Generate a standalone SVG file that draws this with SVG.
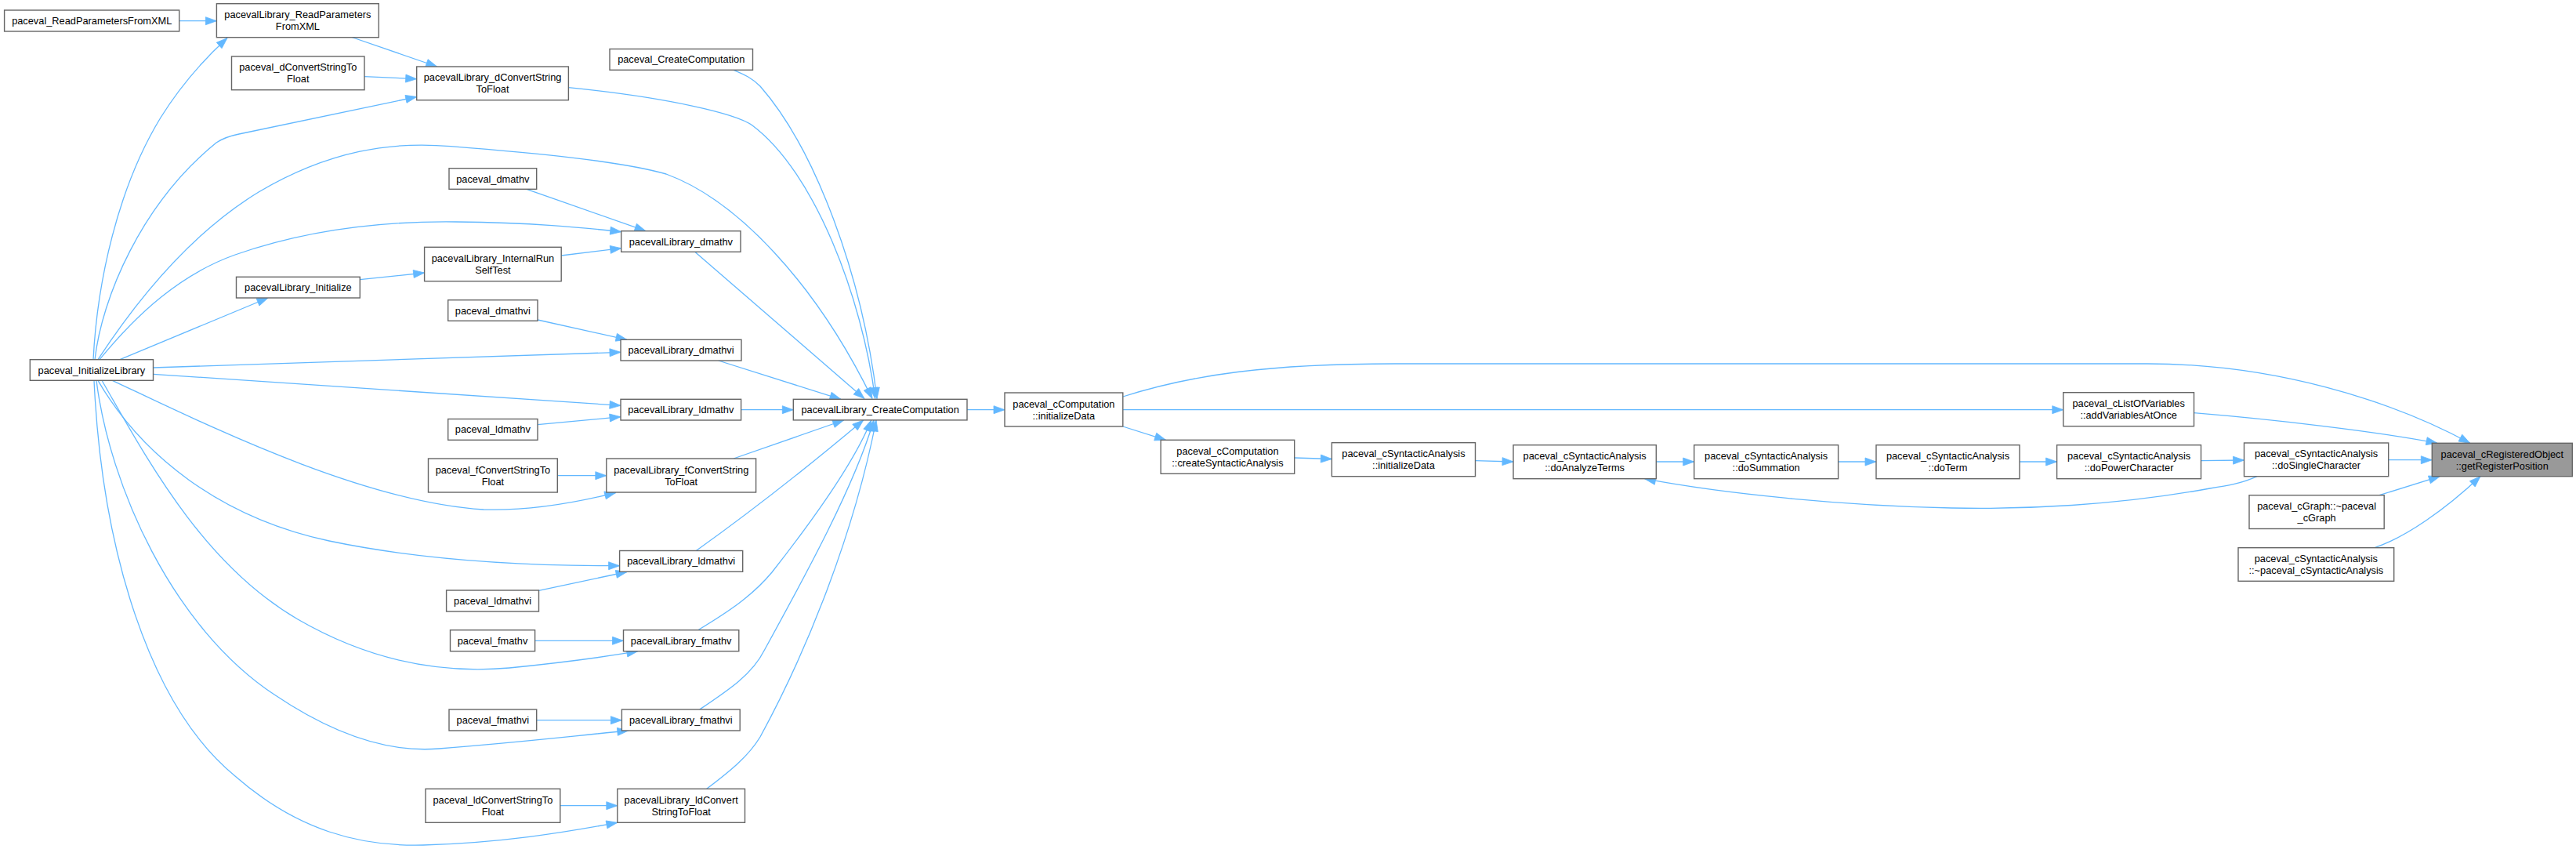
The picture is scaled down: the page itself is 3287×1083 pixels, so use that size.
<svg xmlns="http://www.w3.org/2000/svg" width="3287" height="1083" viewBox="0 0 3287 1083">
<defs>
<marker id="arr" markerUnits="userSpaceOnUse" markerWidth="14" markerHeight="10" refX="14" refY="5" orient="auto" overflow="visible">
<path d="M0,0 L14,5 L0,10 z" fill="#63b8ff" stroke="#63b8ff" stroke-width="0.8"/>
</marker>
</defs>
<style>
.edge{fill:none;stroke:#63b8ff;stroke-width:1.3;marker-end:url(#arr)}
.node rect{fill:#ffffff;stroke:#666666;stroke-width:1.4}
.root rect{fill:#999999;stroke:#666666;stroke-width:1.4}
text{font-family:"Liberation Sans",Arial,sans-serif;font-size:12.8px;fill:#000000;text-anchor:middle}
</style>
<rect x="0" y="0" width="3287" height="1083" fill="#ffffff"/>
<g id="edges">
<path class="edge" d="M228.7,26.7 L276.4,26.7"/>
<path class="edge" d="M119,458.7 C124,360 150,240 205,150 C225,118 250,85 290,48.5"/>
<path class="edge" d="M449,47.5 L557.7,85"/>
<path class="edge" d="M465,97.7 L531.7,100.7"/>
<path class="edge" d="M121,458.7 C130,380 180,260 276,182 C285,176 295,173 305,171 L531.7,123.5"/>
<path class="edge" d="M725.4,111.7 C850,124 940,145 960,160 C1040,220 1100,380 1116.7,508.5"/>
<path class="edge" d="M936,89.3 C950,95 960,100 970,110 C1040,190 1100,350 1119,508.5"/>
<path class="edge" d="M125,458.7 C170,390 240,300 330,245 C420,192 500,180 575,186.7 C680,195 790,205 850,222 C940,255 1040,360 1113,508.5"/>
<path class="edge" d="M672,241.3 L824,294.7"/>
<path class="edge" d="M127,458.7 C175,400 230,350 300,325 C400,290 500,282 582,283 C680,284 740,290 792.7,295.7"/>
<path class="edge" d="M716.2,326 L792.7,316.7"/>
<path class="edge" d="M459.3,356.7 L541.6,348"/>
<path class="edge" d="M153,458.7 L342,380"/>
<path class="edge" d="M886.7,321.3 L1103,508.5"/>
<path class="edge" d="M686,408 L800,433.3"/>
<path class="edge" d="M195.5,469 L792,449.3"/>
<path class="edge" d="M916.7,460 L1073,509.3"/>
<path class="edge" d="M195.5,477.3 L792,517.3"/>
<path class="edge" d="M686,541.7 L792,531.7"/>
<path class="edge" d="M945.6,522.7 L1012.3,522.7"/>
<path class="edge" d="M711.3,606.7 L773.8,606.7"/>
<path class="edge" d="M143.3,485.3 C260,540 460,640 617,650 C680,652 740,640 785.7,628.5"/>
<path class="edge" d="M936,585 L1076.7,536"/>
<path class="edge" d="M125,485.3 C180,580 280,660 420,690 C530,713 650,722 790.6,721.7"/>
<path class="edge" d="M687.5,753.3 L800,729.5"/>
<path class="edge" d="M888.3,702.5 Q990,630 1101.7,536"/>
<path class="edge" d="M682.6,817.3 L795.5,817.3"/>
<path class="edge" d="M130,485.3 C190,590 260,720 380,790 C470,842 560,860 650,852 C710,846 760,840 813.8,830.7"/>
<path class="edge" d="M890.7,803.7 C930,780 960,760 985,730 C1040,660 1090,590 1111.7,536"/>
<path class="edge" d="M684.7,918.7 L793.4,918.7"/>
<path class="edge" d="M123,485.3 C140,620 220,800 350,886 C430,940 500,960 560,955 C650,948 720,940 801.8,932"/>
<path class="edge" d="M892.7,905 C930,880 960,860 975,830 C1030,730 1090,620 1115,536"/>
<path class="edge" d="M714.8,1027.7 L787.8,1027.7"/>
<path class="edge" d="M120,485.3 C130,700 190,900 300,990 C380,1060 460,1080 540,1078 C640,1075 720,1062 787.8,1049.3"/>
<path class="edge" d="M901.7,1006.3 C930,985 955,965 970,940 C1030,830 1090,680 1118,536"/>
<path class="edge" d="M1234,522.7 L1282,522.7"/>
<path class="edge" d="M1432.8,544 L1487.6,561.3"/>
<path class="edge" d="M1651.7,584 L1699.4,585.5"/>
<path class="edge" d="M1882.5,587.7 L1931,589"/>
<path class="edge" d="M2113.3,589 L2161.7,589"/>
<path class="edge" d="M2345.6,589 L2394,589"/>
<path class="edge" d="M2577,589 L2624.6,589"/>
<path class="edge" d="M2808.5,587.7 L2863.5,587"/>
<path class="edge" d="M2880,607.7 C2860,617 2840,620 2820,623 C2700,645 2580,650 2490,648 C2350,645 2200,630 2098.5,610.7"/>
<path class="edge" d="M3047.7,586.7 L3103.3,586.7"/>
<path class="edge" d="M1432.8,506 C1520,478 1620,464 1780,464 L2740,464 C2900,464 3050,510 3151.7,565.3"/>
<path class="edge" d="M1432.8,522.7 L2632.8,522.7"/>
<path class="edge" d="M2799.5,526.7 C2900,535 3030,550 3110,565.3"/>
<path class="edge" d="M3036,631.7 L3113.3,607.7"/>
<path class="edge" d="M3030,698.7 C3070,685 3120,650 3165,607.7"/>
</g>
<g id="n1" class="node"><rect x="5.6" y="13" width="223.1" height="27"/><text x="117.2" y="31">paceval_ReadParametersFromXML</text></g>
<g id="n2" class="node"><rect x="276.4" y="4.7" width="206.9" height="43"/><text x="379.9" y="23.2">pacevalLibrary_ReadParameters</text><text x="379.9" y="38.2">FromXML</text></g>
<g id="n3" class="node"><rect x="295.5" y="72" width="169.5" height="42.7"/><text x="380.25" y="90.4">paceval_dConvertStringTo</text><text x="380.25" y="105.4">Float</text></g>
<g id="n4" class="node"><rect x="531.7" y="85" width="193.7" height="42.7"/><text x="628.55" y="103.4">pacevalLibrary_dConvertString</text><text x="628.55" y="118.4">ToFloat</text></g>
<g id="n5" class="node"><rect x="778" y="62.5" width="182.5" height="26.8"/><text x="869.25" y="80.4">paceval_CreateComputation</text></g>
<g id="n6" class="node"><rect x="573" y="214.7" width="111.7" height="26.6"/><text x="628.85" y="232.5">paceval_dmathv</text></g>
<g id="n7" class="node"><rect x="792.7" y="294.7" width="152.3" height="26.6"/><text x="868.85" y="312.5">pacevalLibrary_dmathv</text></g>
<g id="n8" class="node"><rect x="541.6" y="315.3" width="174.6" height="43.4"/><text x="628.9" y="334">pacevalLibrary_InternalRun</text><text x="628.9" y="349">SelfTest</text></g>
<g id="n9" class="node"><rect x="301.5" y="353.3" width="157.8" height="26.7"/><text x="380.4" y="371.2">pacevalLibrary_Initialize</text></g>
<g id="n10" class="node"><rect x="38.3" y="458.7" width="157.2" height="26.6"/><text x="116.9" y="476.5">paceval_InitializeLibrary</text></g>
<g id="n11" class="node"><rect x="571.7" y="382.7" width="114.3" height="26.6"/><text x="628.85" y="400.5">paceval_dmathvi</text></g>
<g id="n12" class="node"><rect x="792" y="433.3" width="154" height="26.7"/><text x="869" y="451.2">pacevalLibrary_dmathvi</text></g>
<g id="n13" class="node"><rect x="792" y="509.3" width="153.6" height="26.7"/><text x="868.8" y="527.2">pacevalLibrary_ldmathv</text></g>
<g id="n14" class="node"><rect x="571.7" y="534.5" width="114.3" height="26.8"/><text x="628.85" y="552.4">paceval_ldmathv</text></g>
<g id="n15" class="node"><rect x="546.5" y="585" width="164.8" height="43"/><text x="628.9" y="603.5">paceval_fConvertStringTo</text><text x="628.9" y="618.5">Float</text></g>
<g id="n16" class="node"><rect x="773.8" y="585" width="190.8" height="43"/><text x="869.2" y="603.5">pacevalLibrary_fConvertString</text><text x="869.2" y="618.5">ToFloat</text></g>
<g id="n17" class="node"><rect x="790.6" y="702.5" width="157.1" height="26.8"/><text x="869.15" y="720.4">pacevalLibrary_ldmathvi</text></g>
<g id="n18" class="node"><rect x="569.6" y="753" width="117.9" height="27"/><text x="628.55" y="771">paceval_ldmathvi</text></g>
<g id="n19" class="node"><rect x="574.5" y="803.7" width="108.1" height="27"/><text x="628.55" y="821.7">paceval_fmathv</text></g>
<g id="n20" class="node"><rect x="795.5" y="803.7" width="147.3" height="27"/><text x="869.15" y="821.7">pacevalLibrary_fmathv</text></g>
<g id="n21" class="node"><rect x="573" y="905" width="111.7" height="27"/><text x="628.85" y="923">paceval_fmathvi</text></g>
<g id="n22" class="node"><rect x="793.4" y="905" width="150.8" height="27"/><text x="868.8" y="923">pacevalLibrary_fmathvi</text></g>
<g id="n23" class="node"><rect x="543" y="1006.3" width="171.8" height="43"/><text x="628.9" y="1024.8">paceval_ldConvertStringTo</text><text x="628.9" y="1039.8">Float</text></g>
<g id="n24" class="node"><rect x="787.8" y="1006.3" width="162.7" height="43"/><text x="869.15" y="1024.8">pacevalLibrary_ldConvert</text><text x="869.15" y="1039.8">StringToFloat</text></g>
<g id="n25" class="node"><rect x="1012.3" y="509.3" width="221.7" height="26.6"/><text x="1123.15" y="527.1">pacevalLibrary_CreateComputation</text></g>
<g id="n26" class="node"><rect x="1282" y="501" width="150.8" height="43"/><text x="1357.4" y="519.5">paceval_cComputation</text><text x="1357.4" y="534.5">::initializeData</text></g>
<g id="n27" class="node"><rect x="1481.2" y="561.3" width="170.5" height="43"/><text x="1566.45" y="579.8">paceval_cComputation</text><text x="1566.45" y="594.8">::createSyntacticAnalysis</text></g>
<g id="n28" class="node"><rect x="1699.4" y="564.7" width="183.1" height="43"/><text x="1790.95" y="583.2">paceval_cSyntacticAnalysis</text><text x="1790.95" y="598.2">::initializeData</text></g>
<g id="n29" class="node"><rect x="1931" y="567.7" width="182.3" height="43"/><text x="2022.15" y="586.2">paceval_cSyntacticAnalysis</text><text x="2022.15" y="601.2">::doAnalyzeTerms</text></g>
<g id="n30" class="node"><rect x="2161.7" y="567.7" width="183.9" height="43"/><text x="2253.65" y="586.2">paceval_cSyntacticAnalysis</text><text x="2253.65" y="601.2">::doSummation</text></g>
<g id="n31" class="node"><rect x="2394" y="567.7" width="183" height="43"/><text x="2485.5" y="586.2">paceval_cSyntacticAnalysis</text><text x="2485.5" y="601.2">::doTerm</text></g>
<g id="n32" class="node"><rect x="2624.6" y="567.7" width="183.9" height="43"/><text x="2716.55" y="586.2">paceval_cSyntacticAnalysis</text><text x="2716.55" y="601.2">::doPowerCharacter</text></g>
<g id="n33" class="node"><rect x="2863.5" y="565" width="184.2" height="42.7"/><text x="2955.6" y="583.35">paceval_cSyntacticAnalysis</text><text x="2955.6" y="598.35">::doSingleCharacter</text></g>
<g id="n34" class="root"><rect x="3103.3" y="565.3" width="179" height="42.4"/><text x="3192.8" y="583.5">paceval_cRegisteredObject</text><text x="3192.8" y="598.5">::getRegisterPosition</text></g>
<g id="n35" class="node"><rect x="2632.8" y="500.7" width="166.7" height="43"/><text x="2716.15" y="519.2">paceval_cListOfVariables</text><text x="2716.15" y="534.2">::addVariablesAtOnce</text></g>
<g id="n36" class="node"><rect x="2870" y="631.7" width="172.2" height="42.8"/><text x="2956.1" y="650.1">paceval_cGraph::~paceval</text><text x="2956.1" y="665.1">_cGraph</text></g>
<g id="n37" class="node"><rect x="2856" y="698.7" width="198.7" height="42.6"/><text x="2955.35" y="717">paceval_cSyntacticAnalysis</text><text x="2955.35" y="732">::~paceval_cSyntacticAnalysis</text></g>
</svg>
